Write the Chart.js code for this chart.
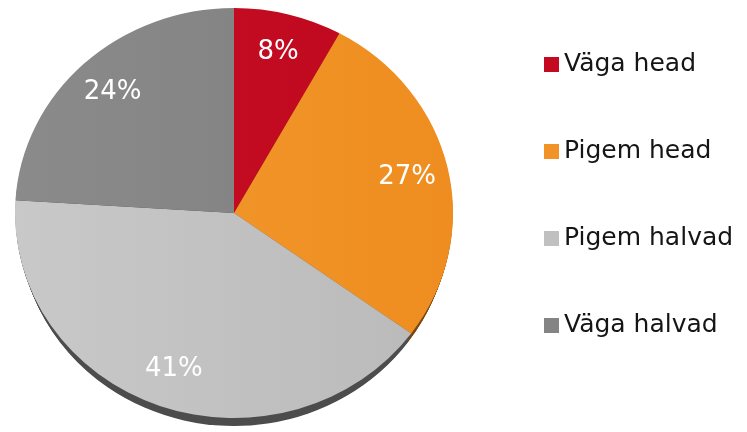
<!DOCTYPE html>
<html>
<head>
<meta charset="utf-8">
<script src="https://cdn.jsdelivr.net/npm/chart.js@4"></script>
<style>
  html, body { margin: 0; padding: 0; background: #fff; }
</style>
</head>
<body>
<canvas id="pieChart" width="747" height="432"></canvas>
<script>
var labels = ["Väga head", "Pigem head", "Pigem halvad", "Väga halvad"];
var values = [8, 27, 41, 24];
var colors = ["#c40a20", "#f29327", "#c0c0c0", "#848484"];
var lightColors = ["#c90c23", "#f49c30", "#c9c9c9", "#8b8b8b"];
var darkColors = ["#bd091e", "#ee8c1f", "#b9b9b9", "#7e7e7e"];
var sideColors = ["#6a0511", "#7a4812", "#4d4d4d", "#444444"];

// pie geometry on the page (slightly wider than tall, with a thin side wall)
var CX = 234, CY = 213, RX = 219, RY = 205, DEPTH = 10, WALL_SHRINK = 4;

function piePoint(angle, frac) {
  return {
    x: CX + Math.cos(angle) * RX * frac,
    y: CY + Math.sin(angle) * RY * frac
  };
}

var tiltPlugin = {
  id: "tilt",
  beforeDatasetsDraw: function (chart) {
    var ctx = chart.ctx;
    var arcs = chart.getDatasetMeta(0).data;
    // side wall under the pie
    arcs.forEach(function (arc, i) {
      var p = arc.getProps(["startAngle", "endAngle", "outerRadius"], true);
      ctx.save();
      ctx.fillStyle = sideColors[i];
      for (var dy = DEPTH; dy >= 1; dy--) {
        var shrink = WALL_SHRINK * dy / DEPTH;
        ctx.save();
        ctx.translate(CX, CY + dy);
        ctx.scale((RX - shrink) / p.outerRadius, (RY - shrink / 2) / p.outerRadius);
        ctx.beginPath();
        ctx.moveTo(0, 0);
        ctx.arc(0, 0, p.outerRadius, p.startAngle, p.endAngle);
        ctx.closePath();
        ctx.fill();
        ctx.restore();
      }
      ctx.restore();
    });
    var p0 = arcs[0].getProps(["x", "y", "outerRadius"], true);
    ctx.save();
    ctx.translate(CX, CY);
    ctx.scale(RX / p0.outerRadius, RY / p0.outerRadius);
    ctx.translate(-p0.x, -p0.y);
  },
  afterDatasetsDraw: function (chart) {
    var ctx = chart.ctx;
    ctx.restore();
    var total = values.reduce(function (a, b) { return a + b; }, 0);
    var arcs = chart.getDatasetMeta(0).data;
    ctx.save();
    ctx.font = "26px 'DejaVu Sans'";
    ctx.fillStyle = "#ffffff";
    ctx.textAlign = "center";
    ctx.textBaseline = "middle";
    arcs.forEach(function (arc, i) {
      var p = arc.getProps(["startAngle", "endAngle"], true);
      var pt = piePoint((p.startAngle + p.endAngle) / 2, 0.81);
      ctx.fillText(Math.round(values[i] / total * 100) + "%", pt.x, pt.y);
    });
    ctx.restore();
  },
  afterDraw: function (chart) {
    var ctx = chart.ctx;
    ctx.save();
    ctx.font = "25px 'DejaVu Sans'";
    ctx.textBaseline = "middle";
    ctx.textAlign = "left";
    labels.forEach(function (label, i) {
      var y = 64.5 + i * 87;
      ctx.fillStyle = colors[i];
      ctx.fillRect(544, y - 7.5, 15, 15);
      ctx.fillStyle = "#151515";
      ctx.fillText(label, 564, y);
    });
    ctx.restore();
  }
};

var ctx = document.getElementById("pieChart").getContext("2d");
var pieChart = new Chart(ctx, {
  type: "pie",
  data: {
    labels: labels,
    datasets: [
      {
        data: values,
        backgroundColor: function (c) {
          var area = c.chart.chartArea;
          if (!area) return colors[c.dataIndex];
          var g = c.chart.ctx.createLinearGradient(area.left, 0, area.right, 0);
          g.addColorStop(0, lightColors[c.dataIndex]);
          g.addColorStop(1, darkColors[c.dataIndex]);
          return g;
        },
        borderWidth: 0,
        clip: false,
      },
    ],
  },
  options: {
    responsive: false,
    animation: false,
    devicePixelRatio: 1,
    layout: {
      padding: { left: 15, right: 294, top: 10, bottom: 14 },
    },
    plugins: {
      legend: { display: false },
      tooltip: { enabled: false },
    },
  },
  plugins: [tiltPlugin],
});
</script>
</body>
</html>
